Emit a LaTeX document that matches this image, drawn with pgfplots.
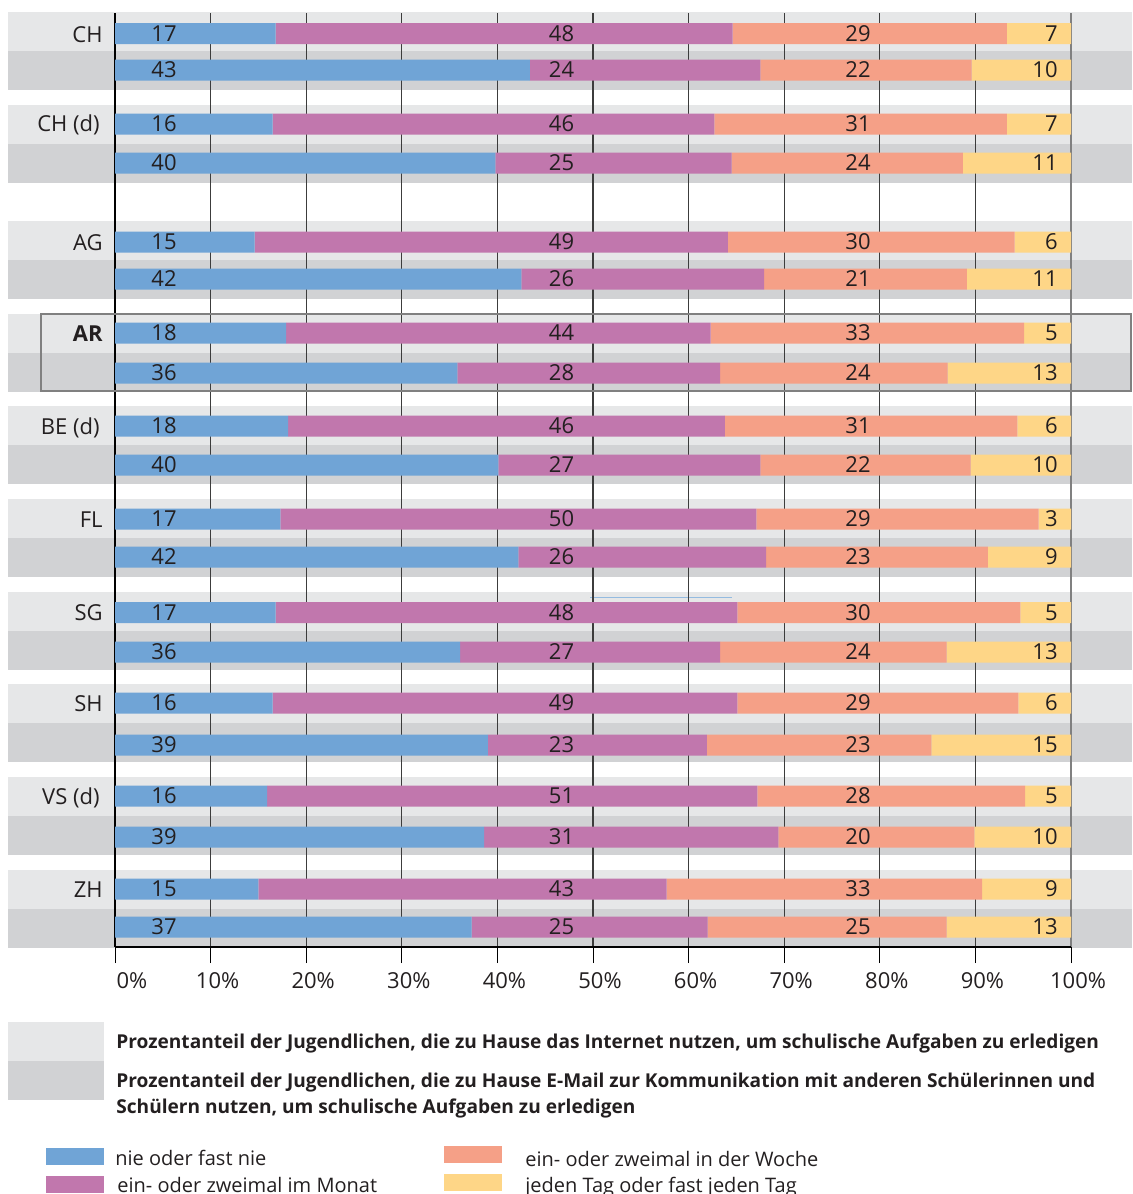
\documentclass[border=0pt]{standalone}
\usepackage{pgfplots}
\pgfplotsset{compat=1.18}
\usepackage{pgfplotstable}
\usepackage{fontspec}
\setmainfont{Open Sans}
\definecolor{bandL}{HTML}{E6E7E8}
\definecolor{bandD}{HTML}{D1D2D4}
\definecolor{cBlue}{HTML}{70A4D6}
\definecolor{cMag}{HTML}{C177AD}
\definecolor{cSal}{HTML}{F5A087}
\definecolor{cYel}{HTML}{FED687}
\definecolor{txt}{HTML}{231F20}
\definecolor{gridc}{HTML}{3C3C3C}

% y = vertical pixel position of bar centre
\pgfplotstableread{
y     a    b    c    d
33.5  16.8 47.8 28.7 6.7
70    43.4 24.1 22.1 10.4
124   16.5 46.2 30.6 6.7
163   39.8 24.7 24.2 11.3
242   14.6 49.5 30.0 5.9
279   42.5 25.4 21.2 10.9
333   17.9 44.4 32.8 4.9
373   35.8 27.5 23.8 12.9
426   18.1 45.7 30.6 5.6
465   40.1 27.4 22.0 10.5
519   17.3 49.8 29.5 3.4
557   42.2 25.9 23.2 8.7
612.5 16.8 48.3 29.6 5.3
652   36.1 27.2 23.7 13.0
703   16.5 48.6 29.4 5.5
745   39.0 22.9 23.5 14.6
796   15.9 51.3 28.0 4.8
837   38.6 30.8 20.5 10.1
889   15.0 42.7 33.0 9.3
927   37.3 24.7 25.0 13.0
}\data

\begin{document}
\begin{tikzpicture}[x=0.5pt,y=-0.5pt]
\useasboundingbox (0,0) rectangle (1132,1194);
% background bands
\foreach \t in {12,105,221,314,406,499,592,684,777,870}{
  \fill[bandL] (8,\t) rectangle (1132,\t+39);
  \fill[bandD] (8,\t+39) rectangle (1132,\t+78);
}
\draw[color=cBlue!75!white, line width=0.5pt] (590,597) -- (732,597);
% grid lines
\foreach \g in {1,...,9}{
  \draw[gridc, line width=0.65pt] (115+95.6*\g,13) -- (115+95.6*\g,947);
}
\draw[black, line width=0.7pt] (115,13) -- (115,947);
\draw[gray, line width=1.1pt] (1071,13) -- (1071,947);

\begin{axis}[
  at={(57.5pt,-6.5pt)}, anchor=north west,
  scale only axis, width=478pt, height=467pt,
  xmin=0, xmax=100, ymin=-947, ymax=-13,
  xbar stacked, bar width=21,
  axis x line*=bottom, axis y line=none,
  x axis line style={black, line width=0.65pt},
  xtick={0,10,...,100},
  xticklabels={\hspace*{10pt}0\%,10\%,20\%,30\%,40\%,50\%,60\%,70\%,80\%,90\%,100\%},
  tick align=outside,
  major tick length=8pt,
  xtick style={black, line width=0.5pt},
  xticklabel style={font=\fontsize{11pt}{13pt}\selectfont, text=txt, xshift=3.5pt, yshift=-1pt},
]
\addplot[fill=cBlue, draw=none] table[x=a, y expr=-\thisrow{y}]{\data};
\addplot[fill=cMag, draw=none] table[x=b, y expr=-\thisrow{y}]{\data};
\addplot[fill=cSal, draw=none] table[x=c, y expr=-\thisrow{y}]{\data};
\addplot[fill=cYel, draw=none] table[x=d, y expr=-\thisrow{y}]{\data};
\end{axis}

% value labels
\foreach \yc/\la/\lb/\lc/\ld in {33.5/17/48/29/7, 70/43/24/22/10, 124/16/46/31/7, 163/40/25/24/11,
  242/15/49/30/6, 279/42/26/21/11, 333/18/44/33/5, 373/36/28/24/13, 426/18/46/31/6, 465/40/27/22/10,
  519/17/50/29/3, 557/42/26/23/9, 612.5/17/48/30/5, 652/36/27/24/13, 703/16/49/29/6, 745/39/23/23/15,
  796/16/51/28/5, 837/39/31/20/10, 889/15/43/33/9, 927/37/25/25/13}{
  \begin{scope}[every node/.style={inner sep=0pt, text=txt, font=\fontsize{11pt}{13pt}\selectfont}]
  \node[anchor=base] at (164,\yc+7.5) {\la};
  \node[anchor=base] at (561.5,\yc+7.5) {\lb};
  \node[anchor=base] at (858,\yc+7.5) {\lc};
  \node[anchor=base east] at (1058,\yc+7.5) {\ld};
  \end{scope}
}
% row labels
\begin{scope}[every node/.style={inner sep=0pt, text=txt, anchor=base east, font=\fontsize{11pt}{13pt}\selectfont}]
\node at (103,42) {CH};
\node at (100,131) {CH (d)};
\node at (103,250) {AG};
\node at (103,341) {\textbf{AR}};
\node at (100,434) {BE (d)};
\node at (103,527) {FL};
\node at (103,620) {SG};
\node at (103,711) {SH};
\node at (100,804) {VS (d)};
\node at (103,897) {ZH};
\end{scope}
% AR highlight box
\draw[gray, line width=1pt] (41,314) rectangle (1131,391);

% legend: row types
\fill[bandL] (8,1022) rectangle (104,1061);
\fill[bandD] (8,1061) rectangle (104,1100);
\begin{scope}[every node/.style={inner sep=0pt, text=txt, anchor=base west, font=\fontsize{9.55pt}{11pt}\selectfont\bfseries}]
\node at (116,1048) {Prozentanteil der Jugendlichen, die zu Hause das Internet nutzen, um schulische Aufgaben zu erledigen};
\node at (116,1087) {Prozentanteil der Jugendlichen, die zu Hause E-Mail zur Kommunikation mit anderen Schülerinnen und};
\node at (116,1113) {Schülern nutzen, um schulische Aufgaben zu erledigen};
\end{scope}
% legend: colours
\fill[cBlue] (46,1148) rectangle (104,1165);
\fill[cMag] (46,1176) rectangle (104,1193);
\fill[cSal] (444,1146) rectangle (502,1163);
\fill[cYel] (444,1174) rectangle (502,1191);
\begin{scope}[every node/.style={inner sep=0pt, text=txt, anchor=base west, font=\fontsize{10pt}{12pt}\selectfont}]
\node at (115,1165) {nie oder fast nie};
\node at (117,1192) {ein- oder zweimal im Monat};
\node at (525,1166) {ein- oder zweimal in der Woche};
\node at (525,1192) {jeden Tag oder fast jeden Tag};
\end{scope}
\end{tikzpicture}
\end{document}
